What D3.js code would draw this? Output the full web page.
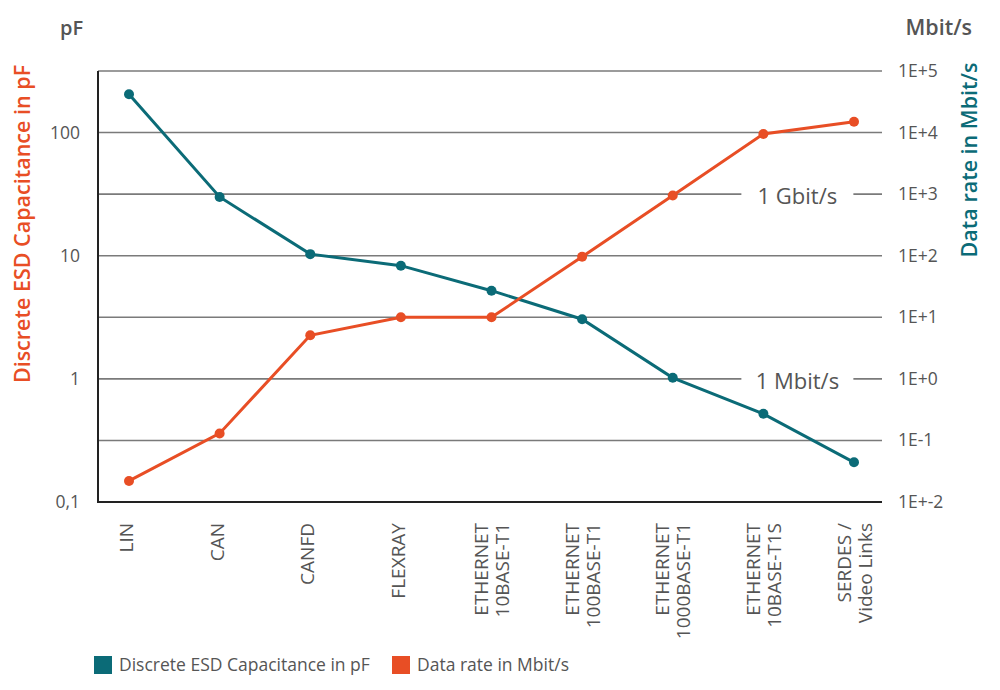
<!DOCTYPE html>
<html><head><meta charset="utf-8">
<script src="https://cdn.jsdelivr.net/npm/d3@7"></script>
<style>body{margin:0;background:#fff} text{font-family:"Open Sans",sans-serif}</style>
</head><body><svg id="c" width="1000" height="690"></svg>
<script>
const categories = ["LIN", "CAN", "CANFD", "FLEXRAY", "ETHERNET|10BASE-T1", "ETHERNET|100BASE-T1", "ETHERNET|1000BASE-T1", "ETHERNET|10BASE-T1S", "SERDES /|Video Links"];
const capacitancePF = [205, 30, 10.3, 8.3, 5.2, 3.05, 1.02, 0.52, 0.21];
const dataRateMbit = [0.022, 0.13, 5.1, 10, 10, 96, 950, 9500, 15000];
const leftTickValues = [100, 10, 1, 0.1];
const leftTickLabels = ["100", "10", "1", "0,1"];
const rightTickValues = [1e5, 1e4, 1e3, 1e2, 1e1, 1e0, 1e-1, 1e-2];
const rightTickLabels = ["1E+5", "1E+4", "1E+3", "1E+2", "1E+1", "1E+0", "1E-1", "1E+-2"];
const annotations = [{label: "1 Gbit/s", value: 1e3}, {label: "1 Mbit/s", value: 1}];
const seriesNames = ["Discrete ESD Capacitance in pF", "Data rate in Mbit/s"];

const TEAL = "#0b6b77", ORANGE = "#e84e25", GREY = "#555", GRID = "#7a7a7a";
const svg = d3.select("#c");
const L = 98, R = 882, T = 71, B = 502;

const x = d3.scalePoint().domain(categories).range([129, 854]);
const yL = d3.scaleLog().domain([0.1, Math.pow(10, 2.5)]).range([B, T]);
const yR = d3.scaleLog().domain([0.01, 1e5]).range([B, T]);

// gridlines
svg.append("g").selectAll("line").data(rightTickValues.slice(0, -1)).join("line")
  .attr("x1", L).attr("x2", R).attr("y1", d => yR(d)).attr("y2", d => yR(d))
  .attr("stroke", GRID).attr("stroke-width", 1.6);

// annotations on gridlines
const ann = svg.append("g");
annotations.forEach(a => {
  const cx = x(categories[7]) + 34, cy = yR(a.value);
  ann.append("rect").attr("x", cx - 56).attr("y", cy - 15).attr("width", 112).attr("height", 30).attr("fill", "#fff");
  ann.append("text").attr("x", cx).attr("y", cy + 10).attr("text-anchor", "middle")
    .attr("font-size", 22).attr("fill", GREY).text(a.label);
});

// frame
svg.append("line").attr("x1", L).attr("x2", L).attr("y1", T).attr("y2", B).attr("stroke", "#222").attr("stroke-width", 2);
svg.append("line").attr("x1", L - 1).attr("x2", R).attr("y1", B).attr("y2", B).attr("stroke", "#222").attr("stroke-width", 2);

// left ticks
svg.append("g").selectAll("text").data(leftTickValues).join("text")
  .attr("x", 80).attr("y", d => yL(d) + 6).attr("text-anchor", "end")
  .attr("font-size", 17.5).attr("fill", GREY).text((d, i) => leftTickLabels[i]);
// right ticks
svg.append("g").selectAll("text").data(rightTickValues).join("text")
  .attr("x", 898).attr("y", d => yR(d) + 6).attr("text-anchor", "start")
  .attr("font-size", 17.5).attr("fill", GREY).text((d, i) => rightTickLabels[i]);

// unit labels
svg.append("text").attr("x", 60).attr("y", 35).attr("font-size", 20).attr("font-weight", 600).attr("fill", GREY).text("pF");
svg.append("text").attr("x", 972).attr("y", 35).attr("text-anchor", "end").attr("font-size", 21.5).attr("font-weight", 600).attr("fill", GREY).text("Mbit/s");

// axis titles
svg.append("text").attr("transform", "translate(30,224) rotate(-90)").attr("text-anchor", "middle")
  .attr("font-size", 21.5).attr("font-weight", 600).attr("fill", ORANGE).text(seriesNames[0]);
svg.append("text").attr("transform", "translate(977,160) rotate(-90)").attr("text-anchor", "middle")
  .attr("font-size", 21.5).attr("font-weight", 600).attr("fill", TEAL).text(seriesNames[1]);

// x labels
const xl = svg.append("g").selectAll("g").data(categories).join("g")
  .attr("transform", d => `translate(${x(d)},523) rotate(-90)`);
xl.each(function(d) {
  const lines = d.split("|");
  const t = d3.select(this).append("text").attr("text-anchor", "end").attr("font-size", 19).attr("fill", GREY);
  lines.forEach((ln, i) => {
    const off = lines.length === 1 ? 4 : (i === 0 ? -3.5 : 17.5);
    t.append("tspan").attr("x", 0).attr("y", off).text(ln);
  });
});

// series
const series = [
  {vals: capacitancePF, scale: yL, color: TEAL},
  {vals: dataRateMbit, scale: yR, color: ORANGE}
];
series.forEach(s => {
  const line = d3.line().x((d, i) => x(categories[i])).y(d => s.scale(d));
  svg.append("path").datum(s.vals).attr("d", line).attr("fill", "none").attr("stroke", s.color).attr("stroke-width", 3);
  svg.append("g").selectAll("circle").data(s.vals).join("circle")
    .attr("cx", (d, i) => x(categories[i])).attr("cy", d => s.scale(d)).attr("r", 5).attr("fill", s.color);
});

// legend
const lg = svg.append("g");
const lx = [94, 392];
seriesNames.forEach((n, i) => {
  lg.append("rect").attr("x", lx[i]).attr("y", 656).attr("width", 18).attr("height", 18).attr("fill", [TEAL, ORANGE][i]);
  lg.append("text").attr("x", lx[i] + 25).attr("y", 671).attr("font-size", 17.5).attr("fill", GREY).text(n);
});
</script></body></html>
